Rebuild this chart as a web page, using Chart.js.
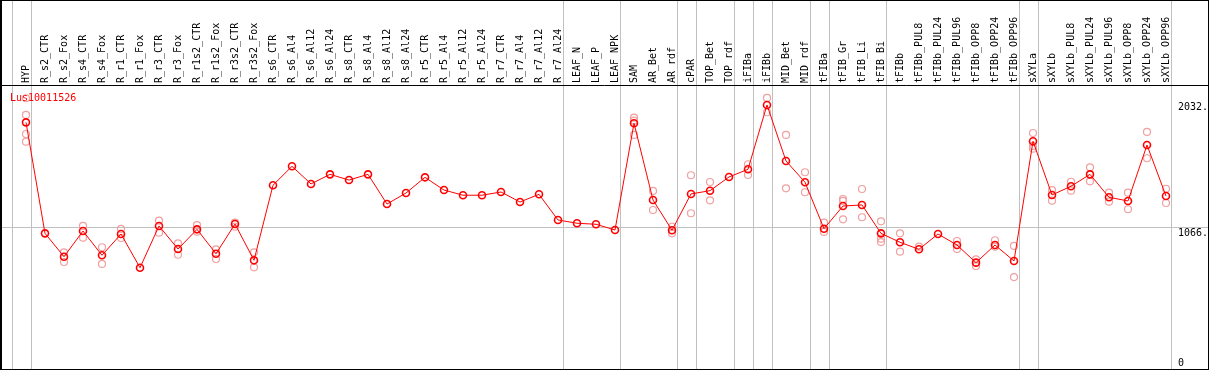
<!DOCTYPE html>
<html lang="en">

<head>
  <meta charset="UTF-8">
  <title>Lus10011526</title>
  <style>
    body {
      margin: 0;
      background: #fff;
    }

    canvas {
      display: block;
    }
  </style>
</head>

<body>

  <canvas id="myChart" width="1209" height="370"></canvas>

  <script src="https://cdn.jsdelivr.net/npm/chart.js"></script>
  <script>
    const geneName = 'Lus10011526';

    const categories = [
      'HYP', 'R_s2_CTR', 'R_s2_Fox', 'R_s4_CTR', 'R_s4_Fox', 'R_r1_CTR', 'R_r1_Fox', 'R_r3_CTR', 'R_r3_Fox',
      'R_r1s2_CTR', 'R_r1s2_Fox', 'R_r3s2_CTR', 'R_r3s2_Fox', 'R_s6_CTR', 'R_s6_Al4', 'R_s6_Al12', 'R_s6_Al24',
      'R_s8_CTR', 'R_s8_Al4', 'R_s8_Al12', 'R_s8_Al24', 'R_r5_CTR', 'R_r5_Al4', 'R_r5_Al12', 'R_r5_Al24',
      'R_r7_CTR', 'R_r7_Al4', 'R_r7_Al12', 'R_r7_Al24', 'LEAF_N', 'LEAF_P', 'LEAF_NPK', 'SAM', 'AR_Bet', 'AR_rdf',
      'cPAR', 'TOP_Bet', 'TOP_rdf', 'iFIBa', 'iFIBb', 'MID_Bet', 'MID_rdf', 'tFIBa', 'tFIB_Gr', 'tFIB_Li', 'tFIB_Bi',
      'tFIBb', 'tFIBb_PUL8', 'tFIBb_PUL24', 'tFIBb_PUL96', 'tFIBb_OPP8', 'tFIBb_OPP24', 'tFIBb_OPP96',
      'sXYLa', 'sXYLb', 'sXYLb_PUL8', 'sXYLb_PUL24', 'sXYLb_PUL96', 'sXYLb_OPP8', 'sXYLb_OPP24', 'sXYLb_OPP96'
    ];

    // mean expression per sample
    const meanValues = [
      1875, 1019, 839, 1037, 850, 1014, 754, 1076, 898,
      1050, 862, 1091, 811, 1390, 1536, 1400, 1474,
      1430, 1474, 1245, 1330, 1451, 1353, 1313, 1313,
      1338, 1261, 1320, 1122, 1097, 1089, 1045, 1868, 1276, 1043,
      1323, 1348, 1454, 1513, 2009, 1577, 1413, 1055, 1230, 1238, 1019,
      950, 896, 1014, 929, 793, 929, 806,
      1729, 1315, 1382, 1474, 1297, 1269, 1700, 1307
    ];

    // single replicates, one list per sample
    const replicateValues = [
      [2061, 1932, 1785, 1726], [], [873, 798], [1076, 986], [912, 783], [1053, 983], [], [1117, 1024], [942, 854],
      [1083, 1032], [896, 821], [1101, 1070], [873, 757], [], [], [], [],
      [], [], [], [], [], [], [], [],
      [], [], [], [], [], [], [], [1911, 1888, 1778], [1346, 1199], [1070, 1019],
      [1467, 1174], [1415, 1274], [], [1552, 1469], [2063, 1953], [1778, 1366], [1490, 1336], [1101, 1030],
      [1284, 1269, 1127], [1361, 1143], [1112, 978, 952],
      [1019, 878], [916], [], [960, 898], [819, 767], [966, 916], [922, 682],
      [1793, 1693, 1672], [1353, 1271], [1417, 1348], [1528, 1420], [1333, 1263], [1333, 1205], [1801, 1598], [1363, 1253]
    ];

    const yTickValues = [0, 1066, 2032];

    // index of the last sample in each tissue group
    const groupEnds = [-1, 0, 28, 31, 34, 35, 37, 38, 39, 41, 42, 45, 52, 53, 60];

    const monoFont = '"DejaVu Sans Mono", monospace';

    const framePlugin = {
      id: 'frame',
      beforeDatasetsDraw(chart) {
        const ctx = chart.ctx;
        const xScale = chart.scales.x;
        ctx.save();
        ctx.strokeStyle = '#c0c0c0';
        ctx.lineWidth = 1;
        groupEnds.forEach(i => {
          const px = Math.round(xScale.getPixelForValue(i + 0.24)) + 0.5;
          ctx.beginPath();
          ctx.moveTo(px, 0);
          ctx.lineTo(px, chart.height);
          ctx.stroke();
        });
        ctx.restore();
      },
      afterDraw(chart) {
        const ctx = chart.ctx;
        const area = chart.chartArea;
        const yScale = chart.scales.y;
        ctx.save();

        // outer frame and separator under the sample names
        ctx.strokeStyle = '#000';
        ctx.lineWidth = 1;
        ctx.strokeRect(0.5, 0.5, chart.width - 1, chart.height - 1);
        ctx.beginPath();
        ctx.moveTo(1.5, 0);
        ctx.lineTo(1.5, chart.height);
        ctx.moveTo(0, area.top + 0.5);
        ctx.lineTo(chart.width, area.top + 0.5);
        ctx.stroke();

        // value labels, inside the plot on the right
        ctx.font = '10px ' + monoFont;
        ctx.fillStyle = '#000';
        ctx.textAlign = 'left';
        ctx.textBaseline = 'alphabetic';
        yTickValues.forEach(v => {
          const py = yScale.getPixelForValue(v);
          const label = v === 0 ? '0' : v + '.';
          ctx.fillText(label, area.right - 30, Math.min(py + 8.5, area.bottom - 3));
        });

        // gene name
        ctx.fillStyle = '#ff0000';
        ctx.fillText(geneName, area.left + 9, area.top + 15.5);
        ctx.restore();
      }
    };

    const replicatePoints = replicateValues.flatMap((list, i) => list.map(v => ({ x: i, y: v })));

    var ctx = document.getElementById('myChart').getContext('2d');
    var myChart = new Chart(ctx, {
      type: 'line',
      data: {
        datasets: [{
          label: geneName,
          data: meanValues.map((v, i) => ({ x: i, y: v })),
          borderColor: '#ff0000',
          borderWidth: 1,
          pointRadius: 3.5,
          pointBorderWidth: 1.6,
          pointBorderColor: '#ff0000',
          pointBackgroundColor: 'rgba(0,0,0,0)',
          tension: 0,
          order: 0
        }, {
          label: 'replicates',
          data: replicatePoints,
          showLine: false,
          pointRadius: 3.5,
          pointBorderWidth: 1.2,
          pointBorderColor: '#f0a0a0',
          pointBackgroundColor: 'rgba(0,0,0,0)',
          order: 1
        }]
      },
      options: {
        responsive: false,
        animation: false,
        events: [],
        layout: {
          autoPadding: false,
          padding: { left: 1, right: 1, top: 0, bottom: 1 }
        },
        plugins: {
          legend: { display: false },
          tooltip: { enabled: false }
        },
        scales: {
          x: {
            type: 'linear',
            position: 'top',
            min: -25 / 19,
            max: 60 + 42 / 19,
            afterBuildTicks: axis => {
              axis.ticks = categories.map((c, i) => ({ value: i }));
            },
            afterFit: axis => {
              axis.height = 85;
              axis.paddingLeft = 0;
              axis.paddingRight = 0;
            },
            grid: { display: false, drawTicks: false },
            border: { display: false },
            ticks: {
              autoSkip: false,
              minRotation: 90,
              maxRotation: 90,
              padding: 2,
              labelOffset: 12,
              color: '#000',
              font: { family: monoFont, size: 10 },
              callback: value => categories[value]
            }
          },
          y: {
            position: 'right',
            min: -27,
            max: 2163,
            afterBuildTicks: axis => {
              axis.ticks = yTickValues.map(v => ({ value: v }));
            },
            afterFit: axis => {
              axis.width = 0;
            },
            grid: {
              drawTicks: false,
              color: c => (c.tick && c.tick.value === 1066 ? '#c0c0c0' : 'rgba(0,0,0,0)')
            },
            border: { display: false },
            ticks: { display: false }
          }
        }
      },
      plugins: [framePlugin]
    });
  </script>

</body>

</html>
